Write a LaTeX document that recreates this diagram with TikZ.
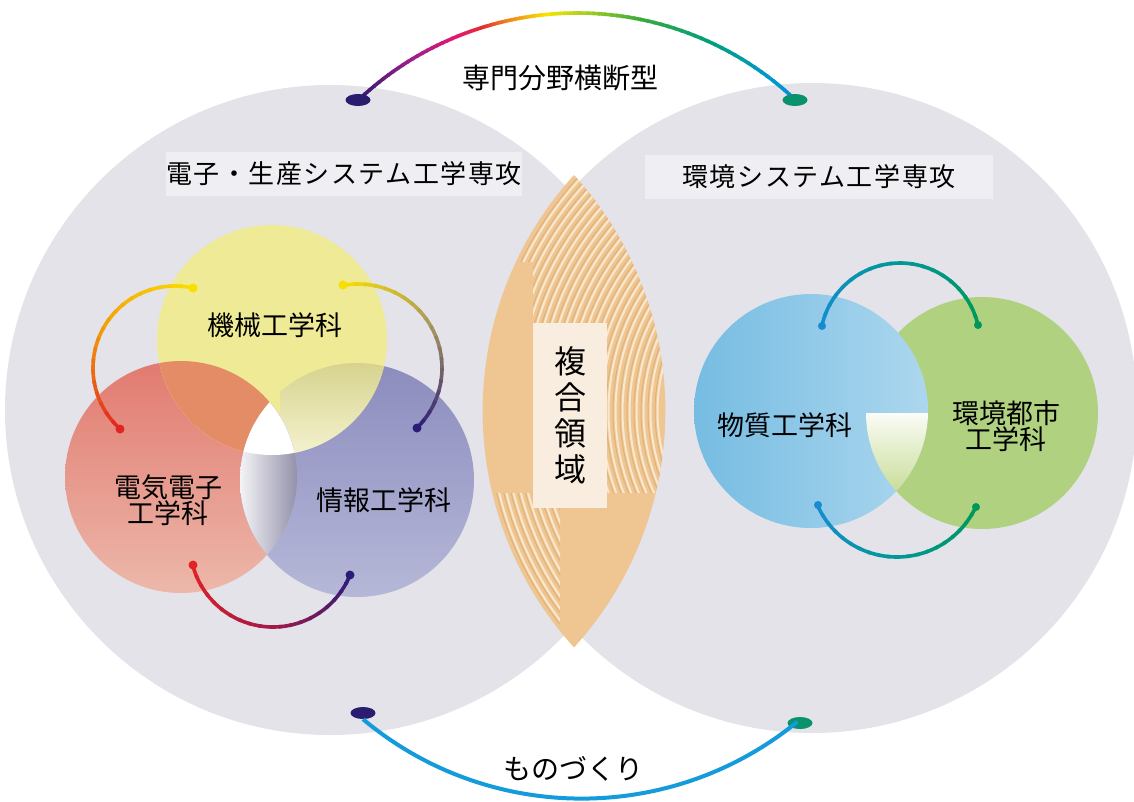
\documentclass[tikz,border=0pt]{standalone}
\usepackage{fontspec}
\setmainfont{Noto Sans CJK JP}
\newfontfamily\widejp[LetterSpace=6]{Noto Sans CJK JP}
\usetikzlibrary{positioning, calc, shapes.geometric}

\definecolor{discgray}{RGB}{227,227,233}
\definecolor{boxgray}{RGB}{239,239,243}
\definecolor{lenstan}{RGB}{239,198,146}
\definecolor{ringlite}{RGB}{249,232,206}
\definecolor{ringdark}{RGB}{222,178,122}
\definecolor{lenscream}{RGB}{248,237,222}
\definecolor{mechyel}{RGB}{238,234,150}
\definecolor{elecred}{RGB}{226,122,112}
\definecolor{elecpink}{RGB}{236,184,170}
\definecolor{infoblue}{RGB}{140,140,190}
\definecolor{infolite}{RGB}{182,184,216}
\definecolor{mixyr}{RGB}{228,140,102}
\definecolor{mixyb}{RGB}{214,210,140}
\definecolor{mixyblite}{RGB}{246,244,212}
\definecolor{mixrb}{RGB}{142,140,166}
\definecolor{matblue}{RGB}{118,188,226}
\definecolor{matlite}{RGB}{172,215,238}
\definecolor{envgreen}{RGB}{176,210,128}
\definecolor{mixbg}{RGB}{196,218,144}
\definecolor{rb1}{RGB}{50,25,110}
\definecolor{rb2}{RGB}{150,30,140}
\definecolor{rb3}{RGB}{225,25,115}
\definecolor{rb4}{RGB}{230,45,45}
\definecolor{rb5}{RGB}{240,130,30}
\definecolor{rb6}{RGB}{245,230,0}
\definecolor{rb7}{RGB}{180,210,30}
\definecolor{rb8}{RGB}{60,170,60}
\definecolor{rb9}{RGB}{0,160,120}
\definecolor{rb10}{RGB}{0,152,208}
\definecolor{rb11}{RGB}{16,140,215}
\definecolor{arcyel}{RGB}{250,222,0}
\definecolor{arcora}{RGB}{242,160,10}
\definecolor{arcred}{RGB}{226,35,35}
\definecolor{arcolive}{RGB}{168,152,96}
\definecolor{arcnavy}{RGB}{42,28,120}
\definecolor{arccrim}{RGB}{168,25,72}
\definecolor{arcblue}{RGB}{22,140,210}
\definecolor{arcteal}{RGB}{0,152,150}
\definecolor{arcgreen}{RGB}{0,152,88}
\definecolor{monoblue}{RGB}{20,155,220}
\definecolor{dotnavy}{RGB}{42,28,110}
\definecolor{dotteal}{RGB}{10,145,110}

\tikzset{%
	disc/.style={fill=discgray},
	titlebox/.style={fill=boxgray, minimum height=44pt, inner sep=0pt,%
		font=\widejp\fontsize{26}{26}\selectfont},
	dept/.style={align=center, inner sep=0pt, font=\fontsize{27}{26}\selectfont},
	arcline/.style={line width=3.6pt},
	bigline/.style={line width=4pt},
	enddot/.style={circle, inner sep=0pt, minimum size=9pt},
	bigdot/.style={ellipse, inner sep=0pt, minimum width=25pt, minimum height=12pt},
	lensbox/.style={fill=lenscream, minimum width=74pt, minimum height=185pt,%
		align=center, inner sep=0pt, font=\fontsize{32}{36}\selectfont}
}

\newcommand\lenspath{(574,175) arc[start angle=222.3, end angle=137.7, radius=351]
	arc[start angle=42.3, end angle=-42.3, radius=351] -- cycle}
\newcommand\arcpiece[6]{%
	\foreach \j in {0,...,9} {%
		\pgfmathsetmacro\angA{#3+(#4-#3)*\j/10}%
		\pgfmathsetmacro\angB{#3+(#4-#3)*(\j+1.3)/10}%
		\pgfmathtruncatemacro\mx{10*\j+5}%
		\draw[arcline, draw=#6!\mx!#5] (#1) ++(\angA:#2) arc[start angle=\angA, end angle=\angB, radius=#2];
	}%
}

\begin{document}
\begin{tikzpicture}[x=1pt, y=-1pt]
	\useasboundingbox (0,0) rectangle (1134,801);
	\fill[disc] (330,410) circle[radius=325] (812,408) circle[radius=325];
	\node[titlebox, minimum width=355pt] (denshi) at (344,174) {電子・生産システム工学専攻};
	\node[titlebox, minimum width=348pt] (kankyo) at (819,177) {環境システム工学専攻};

	\begin{scope}
		\clip \lenspath;
		\fill[lenstan] (470,170) rectangle (680,655);
		\clip (470,160) rectangle (680,262) (533,262) rectangle (680,493) (470,493) rectangle (560,660);
		\foreach \r in {176,183,...,347} {
			\draw[ringdark, line width=1pt] (833.5,411.5) circle[radius=\r+2.5];
			\draw[ringlite, line width=2pt] (833.5,411.5) circle[radius=\r];
		}
	\end{scope}
	\node[lensbox] (fukugo) at (570,415) {複\\合\\領\\域};

	\shade[top color=elecred, bottom color=elecpink] (181,477) circle[radius=116];
	\shade[top color=infoblue, bottom color=infolite] (357,480) circle[radius=117];
	\fill[mechyel] (272,340) circle[radius=115];
	\begin{scope}
		\clip (272,340) circle[radius=115];
		\fill[mixyr] (181,477) circle[radius=116];
		\clip (357,480) circle[radius=117];
		\shade[top color=mixyb, bottom color=mixyblite] (280,360) rectangle (392,460);
	\end{scope}
	\begin{scope}
		\clip (181,477) circle[radius=116];
		\clip (357,480) circle[radius=117];
		\shade[left color=white!90!mixrb, right color=mixrb] (240,395) rectangle (300,600);
		\fill[white] (272,340) circle[radius=115];
	\end{scope}
	\node[dept] (mech) at (275,325) {機械工学科};
	\node[dept] (elec) at (168,500) {電気電子\\工学科};
	\node[dept] (info) at (384,500) {情報工学科};
	\arcpiece{175,368}{82}{282.5}{210}{arcyel}{arcora}
	\arcpiece{175,368}{82}{210}{132}{arcora}{arcred}
	\arcpiece{358,368}{84}{259.8}{330}{arcyel}{arcolive}
	\arcpiece{358,368}{84}{330}{405.5}{arcolive}{arcnavy}
	\arcpiece{273,544}{83}{165.3}{93}{arcred}{arccrim}
	\arcpiece{273,544}{83}{93}{21.9}{arccrim}{arcnavy}
	\node[enddot, fill=arcyel] (mechl) at (193,288) {};
	\node[enddot, fill=arcyel] (mechr) at (343,285) {};
	\node[enddot, fill=arcred] (elect) at (120,429) {};
	\node[enddot, fill=arcred] (elecb) at (193,565) {};
	\node[enddot, fill=arcnavy] (infot) at (417,428) {};
	\node[enddot, fill=arcnavy] (infob) at (350,575) {};

	\fill[envgreen] (982,413) circle[radius=116];
	\shade[left color=matblue, right color=matlite] (811,411) circle[radius=117];
	\begin{scope}
		\clip (982,413) circle[radius=116];
		\clip (811,411) circle[radius=117];
		\shade[top color=white!92!mixbg, bottom color=mixbg] (860,413) rectangle (935,500);
	\end{scope}
	\node[dept] (mat) at (785,425) {物質工学科};
	\node[dept] (env) at (1006,426) {環境都市\\工学科};
	\arcpiece{900,343}{80}{192.3}{270}{arcblue}{arcteal}
	\arcpiece{900,343}{80}{270}{347}{arcteal}{arcgreen}
	\arcpiece{897,470}{87}{156}{90}{arcblue}{arcteal}
	\arcpiece{897,470}{87}{90}{25.4}{arcteal}{arcgreen}
	\node[enddot, minimum size=8pt, fill=arcblue] (matt) at (822,326) {};
	\node[enddot, minimum size=8pt, fill=arcgreen] (envt) at (978,325) {};
	\node[enddot, minimum size=8pt, fill=arcblue] (matb) at (818,505) {};
	\node[enddot, minimum size=8pt, fill=arcgreen] (envb) at (976,507) {};

	\foreach \a/\ca/\b/\cb in {227/rb1/237.7/rb2, 237.7/rb2/247.8/rb3, 247.8/rb3/252.8/rb4,
		252.8/rb4/257.3/rb5, 257.3/rb5/264.6/rb6, 264.6/rb6/270.5/rb7, 270.5/rb7/281.4/rb8,
		281.4/rb8/294.1/rb9, 294.1/rb9/308/rb10, 308/rb10/313.3/rb11}
		{\arcpiece{577,331}{318}{\a}{\b}{\ca}{\cb}}
	\node[bigdot, fill=dotnavy] (senl) at (358,100) {};
	\node[bigdot, fill=dotteal] (senr) at (795,100) {};
	\node[font=\fontsize{28}{28}\selectfont] (senmon) at (560,78) {専門分野横断型};

	\node[bigdot, fill=dotnavy] (monol) at (363,713) {};
	\node[bigdot, fill=dotteal] (monor) at (800,723) {};
	\draw[bigline, monoblue] (monol.south) arc[start angle=129.9, end angle=50.8, radius=341];
	\node[font=\fontsize{28}{28}\selectfont] (mono) at (573,769) {ものづくり};
\end{tikzpicture}
\end{document}
